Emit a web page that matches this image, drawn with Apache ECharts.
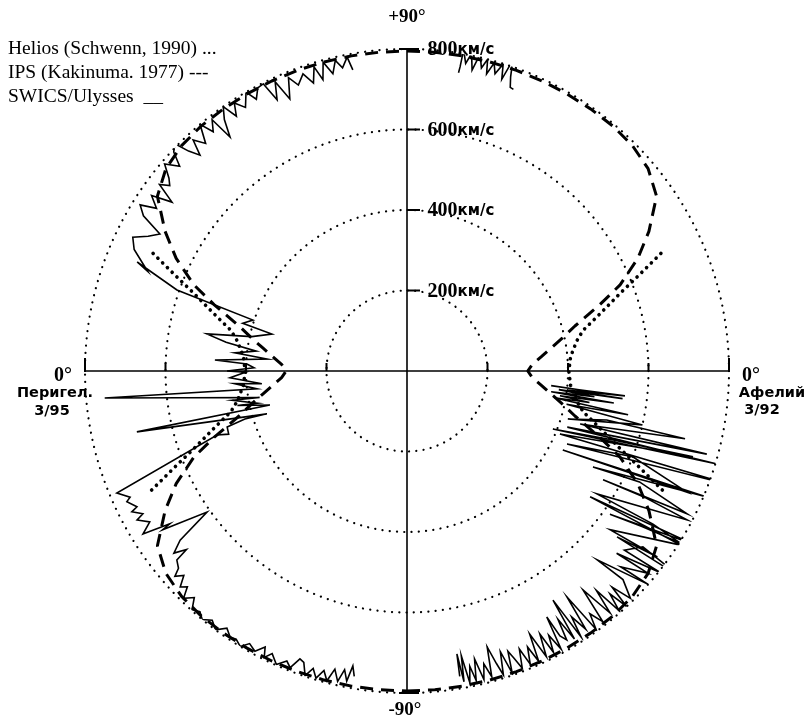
<!DOCTYPE html>
<html><head><meta charset="utf-8">
<script src="https://cdn.jsdelivr.net/npm/echarts@6/dist/echarts.min.js"></script>
<style>html,body{margin:0;padding:0;background:#fff}#c{width:807px;height:724px}</style>
</head><body><div id="c"></div>
<script>
// Radial speed ticks (km/s)
const radiusTicks = [200, 400, 600, 800];
const tickLabels = ['200', '400', '600', '800'];
const speedUnit = 'км/с';

// IPS (Kakinuma, 1977): speed vs |latitude|
const ipsLat   = [0, 3, 6, 9, 12, 15, 19, 22, 26, 30, 35, 40, 45, 50, 55, 60, 65, 70, 75, 80, 85, 90];
const ipsSpeed = [300, 312, 335, 362, 395, 432, 507, 571, 638, 694, 757, 782, 792, 795, 795, 795, 795, 795, 795, 795, 795, 795];

// Helios (Schwenn, 1990): speed vs |latitude|
const heliosLat   = [0, 5, 10, 13, 16.5, 20, 22.5, 25];
const heliosSpeed = [402, 408, 428, 449, 500, 563, 625, 700];

// SWICS/Ulysses: [heliolatitude deg, speed km/s]
// 1) aphelion 3/92 -> southern pass (right half)
const southPass = [
[-5.8,360],[-6.2,430],[-6.5,545],[-6.8,400],[-7.3,540],[-7.0,380],[-7.8,470],[-8.2,362],[-8.8,520],[-9.2,385],
[-9.8,460],[-10.3,372],[-11.2,560],[-11.8,405],[-12.9,600],[-16.6,417],[-13.8,511],[-13.7,711],[-17.0,450],[-15.5,773],
[-19.3,422],[-16.7,804],[-21.7,390],[-18.5,540],[-16.7,742],[-22.4,411],[-19.4,851],[-24.5,437],[-20.8,600],[-23.4,758],
[-26.9,434],[-22.8,808],[-27.3,520],[-25.5,640],[-27.0,781],[-29.0,557],[-28.0,665],[-28.0,788],[-32.9,562],[-31.9,720],
[-32.3,832],[-34.5,552],[-31.2,830],[-35.2,617],[-33.5,700],[-31.9,828],[-38.0,640],[-36.6,775],[-38.3,665],[-37.0,850],
[-36.7,731],[-39.5,700],[-38.5,805],[-41.0,690],[-40.0,782],[-42.5,720],[-41.5,800],[-44.8,666],[-44.0,746],[-45.5,792],
[-46.5,740],[-47.0,800],[-47.7,749],[-48.5,795],[-49.2,720],[-50.0,785],[-51.2,698],[-52.0,790],[-53.0,755],[-53.8,795],
[-54.7,688],[-55.3,780],[-56.2,735],[-56.8,790],[-57.5,675],[-58.0,785],[-58.7,722],[-59.3,777],[-60.0,760],[-60.4,703],
[-61.0,790],[-61.8,745],[-62.5,788],[-63.2,732],[-64.0,790],[-65.0,721],[-65.6,792],[-66.4,748],[-67.2,790],[-68.0,745],
[-68.8,792],[-69.6,760],[-70.2,740],[-70.8,795],[-71.6,735],[-72.4,792],[-73.0,760],[-73.8,714],[-74.5,788],[-75.3,752],
[-76.0,790],[-76.8,735],[-77.4,788],[-78.0,750],[-78.6,790],[-79.2,720],[-79.6,785],[-80.0,714],[-80.2,770]
];
// 2) fast latitude scan through perihelion 3/95 (left half)
const fastScan = [
[-80.2,770],[-79.6,745],[-79.0,785],[-78.2,758],[-77.4,790],[-76.4,762],[-75.5,795],[-74.5,772],[-73.5,796],[-72.5,775],
[-71.5,798],[-70.5,768],[-69.6,763],[-68.5,792],[-67.5,780],[-66.0,798],[-64.5,778],[-63.5,795],[-62.8,771],[-61.5,792],
[-60.0,782],[-58.8,800],[-57.5,790],[-56.4,794],[-55.0,780],[-53.5,800],[-52.0,786],[-50.5,800],[-49.3,789],[-48.0,798],
[-46.8,772],[-45.5,792],[-44.5,765],[-43.6,778],[-42.5,752],[-41.5,770],[-40.8,750],[-39.4,740],[-39.0,705],[-38.0,735],
[-36.7,703],[-35.2,608],[-33.0,724],[-32.8,701],[-31.7,771],[-30.4,741],[-28.9,766],[-28.4,746],[-27.1,768],[-26.7,751],
[-25.0,768],[-24.5,756],[-22.8,782],[-18.6,498],[-19.5,470],[-17.3,468],[-16.5,420],[-17.0,364],[-12.7,688],[-13.9,351],
[-11.5,430],[-12.2,380],[-9.5,440],[-10.2,372],[-5.1,754],[-6.8,375],[-4.2,430],[-5.0,362],[-2.2,440],[-0.4,400],
[0.0,447],[1.2,380],[2.5,398],[3.3,478],[4.9,349],[6.0,430],[7.5,378],[9.0,455],[10.5,506],[12.5,395],
[15.3,348],[16.2,425],[18.3,403],[19.4,606],[22.0,723],[21.0,690],[24.0,742],[26.0,758],[27.5,725],[29.0,702],
[30.5,760],[31.9,781],[33.0,742],[34.5,770],[35.7,719],[37.0,770],[38.0,748],[39.0,761],[40.5,792],[42.0,760],
[43.2,795],[44.4,807],[45.2,770],[46.2,743],[47.2,782],[48.5,755],[50.0,800],[51.0,765],[52.2,790],[52.9,729],
[54.0,772],[55.2,800],[56.2,762],[57.2,792],[58.5,768],[60.0,800],[61.0,772],[62.2,795],[63.4,798],[64.4,747],
[65.5,790],[66.7,736],[68.0,786],[69.2,760],[70.7,782],[72.0,752],[73.0,790],[73.9,753],[74.8,795],[76.0,761],
[77.0,792],[78.0,770],[79.2,794],[79.8,760]
];
// 3) northern pass after max latitude (right half)
const northPass = [
[80.2,752],[80.1,767],[80.0,810],[79.2,778],[78.5,805],[77.8,765],[77.0,808],[76.2,775],[75.5,800],[75.0,764],
[74.2,795],[73.5,770],[72.6,799],[72.0,762],[71.2,816],[70.6,775],[70.0,750],[69.3,748]
];

// latitude -> polar angle (0 = right, 90 = top)
const rightAngle = lat => (lat + 360) % 360;
const leftAngle = lat => 180 - lat;

// symmetric profile, -90..90
function mirror(lats, speeds) {
  const out = [];
  for (let i = lats.length - 1; i > 0; i--) out.push([-lats[i], speeds[i]]);
  for (let i = 0; i < lats.length; i++) out.push([lats[i], speeds[i]]);
  return out;
}
const ipsProfile = mirror(ipsLat, ipsSpeed);
const ipsLoop = ipsProfile.map(p => [p[1], rightAngle(p[0])])
  .concat(ipsProfile.slice().reverse().map(p => [p[1], leftAngle(p[0])]));
const heliosProfile = mirror(heliosLat, heliosSpeed);
const heliosRight = heliosProfile.map(p => [p[1], rightAngle(p[0])]);
const heliosLeft = heliosProfile.map(p => [p[1], leftAngle(p[0])]);

const swicsSouth = southPass.map(p => [p[1], rightAngle(p[0])]);
const swicsScan = fastScan.map(p => [p[1], leftAngle(p[0])]);
const swicsNorth = northPass.map(p => [p[1], rightAngle(p[0])]);

const rMax = radiusTicks[radiusTicks.length - 1];
const axisH = [[rMax, 180], [0, 0], [rMax, 0]];
const axisV = [[rMax, 90], [0, 0], [rMax, 270]];

const vTicks = radiusTicks.slice(0, -1).map(r => [r, 90]);
const endTicksV = [[rMax, 90], [rMax, 270]];
const hTicks = radiusTicks.slice(0, -1).flatMap(r => [[r, 0], [r, 180]]);
const endTicksH = [[rMax, 0], [rMax, 180]];
const labelPts = radiusTicks.map((r, i) => ({ value: [r, 90], name: tickLabels[i] }));

const black = '#000';
const chart = echarts.init(document.getElementById('c'), null, { renderer: 'canvas' });
const serif = '"Liberation Serif", "Times New Roman", serif';
const sans = '"DejaVu Sans", sans-serif';

chart.setOption({
  animation: false,
  backgroundColor: '#fff',
  polar: { center: [407, 371], radius: 322 },
  angleAxis: {
    type: 'value', min: 0, max: 360, startAngle: 0, clockwise: false,
    axisLine: { show: false }, axisTick: { show: false }, axisLabel: { show: false },
    splitLine: { show: false }
  },
  radiusAxis: {
    type: 'value', min: 0, max: rMax, interval: 200,
    axisLine: { show: false }, axisTick: { show: false }, axisLabel: { show: false },
    splitLine: { show: true, lineStyle: { color: black, width: 2.2, type: [0.1, 7.2], cap: 'round' } }
  },
  graphic: [
    { type: 'text', x: 8, y: 49, style: { text: 'Helios (Schwenn, 1990) ...', font: '19.5px ' + serif, fill: black, align: 'left', verticalAlign: 'middle' } },
    { type: 'text', x: 8, y: 73, style: { text: 'IPS (Kakinuma. 1977) ---', font: '19.5px ' + serif, fill: black, align: 'left', verticalAlign: 'middle' } },
    { type: 'text', x: 8, y: 97, style: { text: 'SWICS/Ulysses  __', font: '19.5px ' + serif, fill: black, align: 'left', verticalAlign: 'middle' } },
    { type: 'text', x: 407, y: 17, style: { text: '+90°', font: 'bold 19px ' + serif, fill: black, align: 'center', verticalAlign: 'middle' } },
    { type: 'text', x: 405, y: 710, style: { text: '-90°', font: 'bold 19px ' + serif, fill: black, align: 'center', verticalAlign: 'middle' } },
    { type: 'text', x: 63, y: 376, style: { text: '0°', font: 'bold 20px ' + serif, fill: black, align: 'center', verticalAlign: 'middle' } },
    { type: 'text', x: 55, y: 393, style: { text: 'Перигел.', font: 'bold 14.5px ' + sans, fill: black, align: 'center', verticalAlign: 'middle' } },
    { type: 'text', x: 52, y: 411, style: { text: '3/95', font: 'bold 14.5px ' + sans, fill: black, align: 'center', verticalAlign: 'middle' } },
    { type: 'text', x: 751, y: 376, style: { text: '0°', font: 'bold 20px ' + serif, fill: black, align: 'center', verticalAlign: 'middle' } },
    { type: 'text', x: 772, y: 393, style: { text: 'Афелий', font: 'bold 14.5px ' + sans, fill: black, align: 'center', verticalAlign: 'middle' } },
    { type: 'text', x: 762, y: 410, style: { text: '3/92', font: 'bold 14.5px ' + sans, fill: black, align: 'center', verticalAlign: 'middle' } }
  ],
  series: [
    { type: 'line', coordinateSystem: 'polar', data: axisH, showSymbol: false, symbol: 'none', silent: true, clip: false,
      lineStyle: { color: black, width: 1.6 }, z: 1 },
    { type: 'line', coordinateSystem: 'polar', data: axisV, showSymbol: false, symbol: 'none', silent: true, clip: false,
      lineStyle: { color: black, width: 1.6 }, z: 1 },
    { name: 'IPS', type: 'line', coordinateSystem: 'polar', data: ipsLoop, showSymbol: false, symbol: 'none', clip: false,
      lineStyle: { color: black, width: 3, type: [13, 8] }, z: 2 },
    { name: 'Helios R', type: 'line', coordinateSystem: 'polar', data: heliosRight, showSymbol: false, symbol: 'none', clip: false,
      lineStyle: { color: black, width: 3.6, type: [0.1, 6.6], cap: 'round' }, z: 2 },
    { name: 'Helios L', type: 'line', coordinateSystem: 'polar', data: heliosLeft, showSymbol: false, symbol: 'none', clip: false,
      lineStyle: { color: black, width: 3.6, type: [0.1, 6.6], cap: 'round' }, z: 2 },
    { name: 'SWICS S', type: 'line', coordinateSystem: 'polar', data: swicsSouth, showSymbol: false, symbol: 'none', clip: false,
      lineStyle: { color: black, width: 1.6, join: 'miter' }, z: 3 },
    { name: 'SWICS scan', type: 'line', coordinateSystem: 'polar', data: swicsScan, showSymbol: false, symbol: 'none', clip: false,
      lineStyle: { color: black, width: 1.6, join: 'miter' }, z: 3 },
    { name: 'SWICS N', type: 'line', coordinateSystem: 'polar', data: swicsNorth, showSymbol: false, symbol: 'none', clip: false,
      lineStyle: { color: black, width: 1.6, join: 'miter' }, z: 3 },
    { type: 'scatter', coordinateSystem: 'polar', data: vTicks, symbol: 'rect', symbolSize: [13, 2], symbolOffset: [6.5, 0],
      itemStyle: { color: black, opacity: 1 }, silent: true, z: 4 },
    { type: 'scatter', coordinateSystem: 'polar', data: endTicksV, symbol: 'rect', symbolSize: [20, 2], symbolOffset: [2, 0],
      itemStyle: { color: black, opacity: 1 }, silent: true, z: 4 },
    { type: 'scatter', coordinateSystem: 'polar', data: hTicks, symbol: 'rect', symbolSize: [2, 8], symbolOffset: [0, -4],
      itemStyle: { color: black, opacity: 1 }, silent: true, z: 4 },
    { type: 'scatter', coordinateSystem: 'polar', data: endTicksH, symbol: 'rect', symbolSize: [2, 14], symbolOffset: [0, -6],
      itemStyle: { color: black, opacity: 1 }, silent: true, z: 4 },
    { type: 'scatter', coordinateSystem: 'polar', data: labelPts, symbol: 'circle', symbolSize: 1,
      itemStyle: { color: black, opacity: 1 }, silent: true, z: 5,
      label: {
        show: true, position: 'right', distance: 20, color: black, opacity: 1, textBorderWidth: 0,
        formatter: p => '{n|' + p.name + '}{u|' + speedUnit + '}',
        rich: {
          n: { fontWeight: 'bold', fontSize: 20, fontFamily: serif, color: black, lineHeight: 22, verticalAlign: 'bottom', textBorderWidth: 0 },
          u: { fontWeight: 'bold', fontSize: 15, fontFamily: sans, color: black, lineHeight: 22, verticalAlign: 'bottom', padding: [0, 0, 2, 0], textBorderWidth: 0 }
        }
      } }
  ]
});
</script>
</body></html>
